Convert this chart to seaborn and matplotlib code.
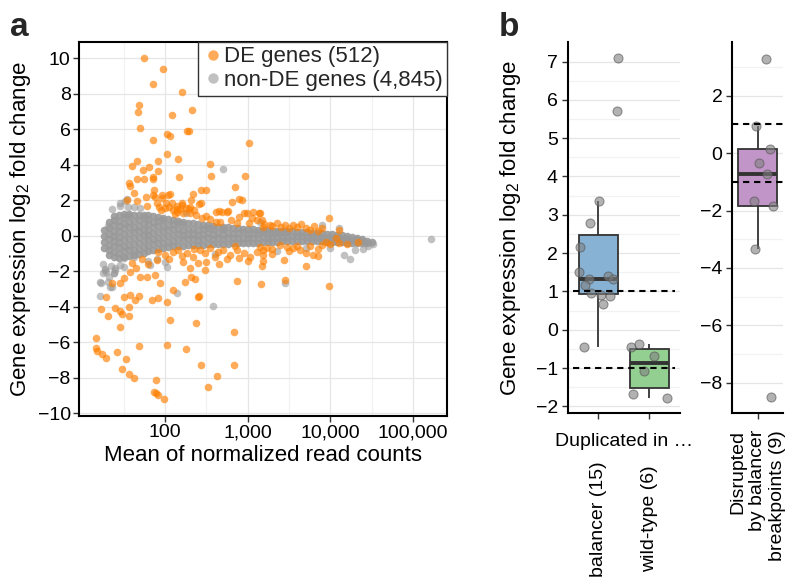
import numpy as np
import pandas as pd
import matplotlib
matplotlib.use("Agg")
import matplotlib.pyplot as plt
import matplotlib.transforms as mtransforms
from matplotlib.lines import Line2D
import seaborn as sns

# ---------------- data: panel a (log10 mean of normalized counts, log2 fold change) ----------------
de_label = "DE genes (512)"
nonde_label = "non-DE genes (4,845)"

# dense core of non-DE genes, one column of values per log10(mean)
cloud_log10_mean = [1.26, 1.32, 1.38, 1.44, 1.50, 1.56, 1.62, 1.68, 1.74, 1.80, 1.86, 1.92, 1.98,
                    2.04, 2.10, 2.16, 2.22, 2.28, 2.34, 2.40, 2.46, 2.52, 2.58, 2.64, 2.70, 2.76,
                    2.82, 2.88, 2.94, 3.00, 3.06, 3.12, 3.18, 3.24, 3.30, 3.36, 3.42, 3.48, 3.54,
                    3.60, 3.66, 3.72, 3.78, 3.84, 3.90, 3.96, 4.02, 4.08, 4.14, 4.20, 4.26, 4.32,
                    4.38, 4.44, 4.50]
cloud_lfc = [
    [-0.7, -0.35, 0.0, 0.35],
    [-1.1, -0.8, -0.5, -0.2, 0.1, 0.45, 0.8],
    [-1.2, -0.9, -0.6, -0.3, 0.0, 0.3, 0.6, 0.9, 1.1],
    [-1.25, -0.95, -0.65, -0.35, -0.05, 0.25, 0.55, 0.85, 1.2],
    [-1.2, -0.88, -0.55, -0.22, 0.1, 0.42, 0.75, 1.05, 1.25],
    [-1.15, -0.82, -0.5, -0.18, 0.15, 0.48, 0.8, 1.1, 1.25],
    [-1.1, -0.78, -0.45, -0.12, 0.2, 0.52, 0.85, 1.2],
    [-1.05, -0.72, -0.4, -0.08, 0.25, 0.58, 0.9, 1.2],
    [-0.95, -0.62, -0.3, 0.02, 0.35, 0.68, 1.0, 1.15],
    [-0.85, -0.55, -0.25, 0.05, 0.35, 0.65, 0.95, 1.15],
    [-0.8, -0.48, -0.16, 0.16, 0.48, 0.8, 1.1],
    [-0.75, -0.43, -0.11, 0.21, 0.53, 0.85, 1.05],
    [-0.7, -0.38, -0.06, 0.26, 0.58, 0.9, 1.0],
    [-0.65, -0.33, -0.01, 0.31, 0.63, 0.95],
    [-0.6, -0.28, 0.04, 0.36, 0.68, 0.9],
    [-0.55, -0.23, 0.09, 0.41, 0.7, 0.85],
    [-0.55, -0.25, 0.05, 0.35, 0.65, 0.8],
    [-0.5, -0.2, 0.1, 0.4, 0.75],
    [-0.5, -0.2, 0.1, 0.4, 0.7],
    [-0.5, -0.22, 0.06, 0.34, 0.65],
    [-0.5, -0.2, 0.1, 0.4, 0.6],
    [-0.45, -0.15, 0.15, 0.45, 0.6],
    [-0.45, -0.17, 0.11, 0.39, 0.55],
    [-0.45, -0.15, 0.15, 0.5],
    [-0.45, -0.17, 0.11, 0.39, 0.5],
    [-0.45, -0.15, 0.15, 0.48],
    [-0.42, -0.14, 0.14, 0.45],
    [-0.42, -0.12, 0.18, 0.42],
    [-0.4, -0.1, 0.2, 0.4],
    [-0.4, -0.13, 0.13, 0.4],
    [-0.4, -0.12, 0.15, 0.38],
    [-0.38, -0.1, 0.18, 0.35],
    [-0.36, -0.08, 0.2, 0.35],
    [-0.35, -0.1, 0.15, 0.32],
    [-0.35, -0.08, 0.18, 0.3],
    [-0.32, -0.05, 0.22, 0.3],
    [-0.3, -0.05, 0.2, 0.28],
    [-0.3, -0.05, 0.2, 0.26],
    [-0.28, -0.02, 0.25],
    [-0.28, -0.02, 0.24],
    [-0.28, -0.03, 0.22],
    [-0.28, -0.04, 0.2],
    [-0.3, -0.06, 0.18],
    [-0.3, -0.07, 0.16],
    [-0.3, -0.08, 0.14],
    [-0.32, -0.1, 0.12],
    [-0.34, -0.12, 0.1],
    [-0.35, -0.15, 0.06],
    [-0.36, -0.17, 0.02],
    [-0.38, -0.2, -0.02],
    [-0.4, -0.22, -0.08],
    [-0.42, -0.25, -0.14],
    [-0.42, -0.3, -0.2],
    [-0.4, -0.28],
    [-0.35],
]

# scattered non-DE genes outside the dense core
nonde_log10_mean = [1.21, 1.21, 1.33, 1.29, 1.31, 1.25, 1.28, 1.35, 1.40, 1.45, 1.50, 1.32, 1.38,
                    1.51, 1.45, 1.55, 1.62, 1.70, 1.36, 1.80, 1.90, 2.00, 2.14, 2.58, 2.70, 3.45,
                    5.22, 4.24, 4.16, 4.40, 4.45, 4.52, 4.30, 4.00, 3.70, 3.35, 2.60, 3.15, 2.25,
                    4.10, 3.90, 1.25, 1.23, 1.31, 1.36, 1.38, 1.27, 1.40, 1.50, 1.62, 1.82, 2.02,
                    1.46, 1.54]
nonde_lfc = [-3.37, -2.58, -2.86, -2.02, 0.57, -1.60, -1.85, -1.70, -1.90, -1.65, -1.75, -2.30, -2.10,
             1.94, 1.70, 1.65, 1.60, 1.55, 1.50, -1.40, -1.30, -1.50, -3.20, -3.93, 3.75, -2.66,
             -0.16, -1.29, -1.09, -0.75, -0.60, -0.48, -0.80, -0.70, -0.70, -0.85, -1.00, 0.80, 1.30,
             0.45, 0.60, -2.11, -2.64, -2.58, -2.87, -2.11, -1.93, -1.83, -1.27, -1.18, -1.64, -1.74,
             1.83, 2.06]

# differentially expressed genes
de_up = [(1.74, 10.0), (1.97, 9.38), (1.86, 8.55), (2.20, 8.08), (1.69, 7.37), (1.67, 6.96), (2.33, 7.07),
         (2.09, 6.82), (1.70, 6.07), (2.26, 5.90), (2.29, 5.90), (1.85, 5.38), (2.03, 5.72), (2.06, 5.61),
         (3.01, 5.25), (2.02, 4.63), (1.66, 4.21), (1.60, 3.93), (1.81, 3.89), (1.92, 4.21), (2.16, 4.31),
         (2.55, 4.03), (1.73, 3.71), (1.91, 3.65), (2.97, 3.35), (2.17, 3.31), (2.56, 3.37), (1.57, 2.99),
         (1.58, 2.80), (1.66, 3.18), (1.85, 3.29), (1.85, 3.18), (1.75, 3.18), (2.85, 2.77), (2.44, 2.60),
         (2.49, 2.60), (2.34, 2.34), (1.62, 2.43), (1.87, 2.56), (1.96, 2.32), (2.06, 2.38), (1.54, 2.02),
         (1.66, 1.96), (1.77, 2.17), (1.88, 2.21), (2.01, 1.87), (2.08, 1.83), (2.21, 1.87), (2.32, 2.00),
         (2.41, 1.79), (2.89, 2.07), (2.81, 1.90), (1.78, 1.68), (1.93, 1.64), (2.14, 1.49), (2.29, 1.49),
         (2.65, 1.38), (2.76, 1.40), (2.95, 1.31), (3.14, 1.31), (3.98, 1.00), (1.86, 2.30), (1.90, 1.83),
         (1.96, 2.11), (2.04, 2.30), (2.00, 1.55), (2.14, 1.36), (2.20, 1.74), (2.30, 1.64), (2.38, 1.17),
         (2.44, 1.83), (2.62, 1.36), (2.69, 1.36), (2.75, 1.36), (2.93, 2.02), (2.99, 1.27), (3.07, 1.36),
         (3.15, 1.27), (2.62, 0.79), (2.67, 0.79), (2.87, 0.70), (3.01, 0.70), (3.11, 0.89), (3.19, 0.51),
         (3.17, 0.89), (3.27, 0.61), (3.55, 0.61), (3.65, 0.66), (2.05, 1.60), (2.10, 1.45), (2.15, 1.70),
         (2.18, 1.50), (2.22, 1.30), (2.12, 1.25), (1.95, 1.45), (2.25, 1.55), (2.30, 1.30), (2.35, 1.45),
         (3.30, 0.55), (3.40, 0.50), (3.50, 0.45), (3.60, 0.50), (3.70, 0.42), (3.75, 0.35), (3.85, 0.30),
         (3.20, 0.65), (3.45, 0.60), (2.50, 1.10), (2.55, 0.95), (2.45, 1.00), (2.80, 0.90), (2.90, 1.05),
         (3.05, 1.00), (3.35, 0.75), (3.90, 0.45), (3.80, 0.55), (4.10, 0.35)]
de_down = [(3.98, -2.83), (3.45, -2.49), (3.16, -2.73), (2.87, -2.54), (3.71, -1.68), (3.44, -1.36),
           (3.85, -1.14), (3.17, -1.68), (3.18, -1.40), (2.48, -1.92), (2.41, -3.39), (2.10, -3.05),
           (1.94, -2.68), (1.88, -2.21), (1.78, -2.30), (1.70, -2.30), (1.58, -2.02), (1.50, -2.39),
           (1.46, -2.68), (1.36, -2.68), (2.24, -2.58), (2.32, -2.30), (2.36, -2.45), (1.29, -3.46),
           (1.50, -3.43), (1.58, -3.34), (1.64, -3.62), (1.69, -3.39), (1.84, -3.62), (1.92, -3.52),
           (2.02, -3.71), (2.40, -3.43), (1.22, -4.14), (1.31, -4.50), (1.40, -4.05), (1.46, -4.22),
           (1.48, -4.42), (1.56, -4.50), (1.56, -4.03), (1.45, -5.12), (2.06, -4.74), (2.38, -4.93),
           (2.83, -5.44), (1.17, -5.74), (1.16, -6.34), (1.18, -6.49), (1.24, -6.68), (1.29, -6.87),
           (1.42, -6.53), (1.53, -6.96), (1.68, -6.23), (2.03, -6.17), (2.25, -6.38), (1.48, -7.49),
           (1.57, -7.80), (1.63, -7.99), (2.44, -7.26), (2.83, -7.26), (2.63, -7.88), (2.52, -8.52),
           (1.89, -8.14), (1.87, -8.80), (1.89, -8.87), (1.92, -8.99), (1.99, -9.19),
           (2.10, -0.90), (2.16, -0.80), (2.26, -0.99), (2.34, -1.21), (2.42, -0.80), (2.48, -0.99),
           (2.54, -0.70), (2.64, -0.90), (2.70, -0.80), (2.79, -1.08), (2.87, -0.80), (2.95, -0.99),
           (3.03, -1.18), (3.11, -0.90), (3.19, -0.80), (2.22, -1.46), (2.50, -1.46), (2.30, -1.83),
           (1.90, -1.36), (1.72, -1.32), (1.92, -0.90), (2.00, -1.08), (3.15, -0.61), (3.23, -0.70),
           (3.39, -0.52), (3.47, -0.61), (3.55, -0.70), (3.63, -0.80), (3.71, -0.99), (3.79, -1.08),
           (3.85, -0.76), (3.95, -0.33), (4.07, -0.14), (4.34, -0.33), (3.19, -1.08), (3.30, -0.75),
           (3.50, -0.85), (3.60, -0.60), (3.75, -0.55), (3.90, -0.50), (4.00, -0.45), (4.10, -0.40),
           (4.20, -0.45), (2.60, -1.20), (2.75, -1.30), (2.90, -1.25), (3.00, -1.40), (2.20, -1.15),
           (2.05, -1.30), (1.80, -1.60), (1.65, -1.80), (1.60, -1.55), (2.40, -1.55), (2.65, -1.60),
           (2.35, -0.75), (2.85, -0.60), (3.30, -1.00)]

x_ticks = [100, 1000, 10000, 100000]
y_ticks_a = list(range(-10, 11, 2))

# ---------------- data: panel b ----------------
dup_groups = ["balancer (15)", "wild-type (6)"]
balancer_lfc = [7.09, 5.71, 3.35, 2.78, 2.17, 1.52, 1.32, 1.17, 1.40, 1.32, 0.95, 0.91, 0.87, 0.67, -0.44]
balancer_jitter = [0.38, 0.37, 0.01, -0.16, -0.36, -0.38, -0.18, -0.26, 0.18, 0.28, -0.15, 0.05, 0.23, 0.09, -0.28]
wildtype_lfc = [-0.44, -0.37, -0.68, -1.07, -1.68, -1.79]
wildtype_jitter = [-0.36, -0.20, 0.09, -0.10, -0.32, 0.35]
disrupted_group = "Disrupted\nby balancer\nbreakpoints (9)"
disrupted_lfc = [3.28, 0.94, 0.16, -0.36, -0.73, -1.68, -1.84, -3.35, -8.49]
disrupted_jitter = [0.16, -0.03, 0.25, 0.03, 0.18, -0.07, 0.31, -0.05, 0.27]
threshold = 1.0
box_colors = ["#87B2D4", "#94CF92", "#C195C8"]

# ---------------- style ----------------
sns.set_theme(style="white")
plt.rcParams["font.family"] = ["Liberation Sans", "DejaVu Sans"]
plt.rcParams["mathtext.fontset"] = "custom"
plt.rcParams["mathtext.rm"] = "Liberation Sans"
plt.rcParams["mathtext.default"] = "regular"

fig = plt.figure(figsize=(8, 5.88), dpi=100)
W, H = 800.0, 588.0


def box(l, t, r, b):
    return [l / W, 1 - b / H, (r - l) / W, (b - t) / H]


ylab = "Gene expression log$_2$ fold change"
grid_major = "#E6E6E6"
grid_minor = "#F2F2F2"

# ---------------- panel a ----------------
ax = fig.add_axes(box(79, 42, 447, 416))
cx = [10 ** m for m, ys in zip(cloud_log10_mean, cloud_lfc) for _ in ys]
cy = [v for ys in cloud_lfc for v in ys]
sns.scatterplot(x=cx, y=cy, color="#999999", alpha=0.9, s=30, linewidth=0, ax=ax, legend=False, zorder=3)
sns.scatterplot(x=[10 ** m for m in nonde_log10_mean], y=nonde_lfc, color="#999999", alpha=0.6,
                s=30, linewidth=0, ax=ax, legend=False, zorder=3)
de_all = de_up + de_down
sns.scatterplot(x=[10 ** p[0] for p in de_all], y=[p[1] for p in de_all], color="#FF7F00", alpha=0.65,
                s=30, linewidth=0, ax=ax, legend=False, zorder=4)
ax.set_xscale("log")
ax.set_xlim(9.11, 257700)
ax.set_ylim(-10.15, 10.92)
ax.set_xticks(x_ticks)
ax.set_xticklabels([f"{v:,}" for v in x_ticks])
ax.set_xticks([10 ** 1.5, 10 ** 2.5, 10 ** 3.5, 10 ** 4.5], minor=True)
ax.xaxis.set_minor_formatter(matplotlib.ticker.NullFormatter())
ax.set_yticks(y_ticks_a)
ax.set_yticklabels([f"{v}".replace("-", "\u2212") for v in y_ticks_a])
ax.grid(True, which="major", color=grid_major, lw=0.9, zorder=0)
ax.grid(True, which="minor", axis="x", color=grid_minor, lw=0.9, zorder=0)
ax.set_axisbelow(True)
for s in ax.spines.values():
    s.set_color("black")
    s.set_linewidth(1.5)
ax.tick_params(axis="both", which="major", direction="out", length=4, width=1.0, color="#333333",
               labelsize=14, pad=2, labelcolor="black", bottom=True, left=True)
ax.tick_params(axis="x", which="minor", length=0)
ax.set_xlabel("Mean of normalized read counts", fontsize=16, color="black")
ax.set_ylabel(ylab, fontsize=16, color="black")
ax.xaxis.set_label_coords(0.5, -0.078)
ax.yaxis.set_label_coords(-0.125, 0.5)
handles = [Line2D([], [], marker="o", ls="", color="#FF7F00", alpha=0.65, markersize=7.5, mec="none"),
           Line2D([], [], marker="o", ls="", color="#999999", alpha=0.6, markersize=7.5, mec="none")]
leg = ax.legend(handles, [de_label, nonde_label], loc="upper right", bbox_to_anchor=(1, 1),
                borderaxespad=0, fontsize=16, handletextpad=0.05, handlelength=0.9, labelspacing=0.12,
                borderpad=0.2, fancybox=False, framealpha=1, edgecolor="#333333")
leg.get_frame().set_linewidth(1.0)
leg.set_zorder(10)

# ---------------- panel b (duplicated) ----------------
ax1 = fig.add_axes(box(567.7, 42, 680, 413.3))
df1 = pd.DataFrame({
    "group": [dup_groups[0]] * len(balancer_lfc) + [dup_groups[1]] * len(wildtype_lfc),
    "lfc": balancer_lfc + wildtype_lfc,
})
box_kw = dict(showfliers=False, showcaps=False, width=0.76, linecolor="#333333", linewidth=1.3,
              saturation=1, medianprops={"linewidth": 2.8, "color": "#333333"}, legend=False)
sns.boxplot(data=df1, x="group", y="lfc", hue="group", order=dup_groups, hue_order=dup_groups,
            palette=box_colors[:2], ax=ax1, **box_kw)
px1 = [0 + j for j in balancer_jitter] + [1 + j for j in wildtype_jitter]
sns.scatterplot(x=px1, y=balancer_lfc + wildtype_lfc, color="#808080", alpha=0.6, s=42,
                edgecolor="#555555", linewidth=0.8, ax=ax1, legend=False, zorder=5)
ax1.hlines([threshold, -threshold], -0.5, len(dup_groups) - 0.5, colors="black", lw=1.5,
           linestyles=(0, (3, 2.3)), zorder=6)
ax1.set_xlim(-0.6, 1.6)
ax1.set_ylim(-2.18, 7.51)
ax1.set_yticks(range(-2, 8))
ax1.set_yticklabels([f"{v}".replace("-", "\u2212") for v in range(-2, 8)])
ax1.set_yticks(np.arange(-1.5, 7.5, 1.0), minor=True)

# ---------------- panel b (disrupted) ----------------
ax2 = fig.add_axes(box(732.3, 42, 783, 413.3))
df2 = pd.DataFrame({"group": [disrupted_group] * len(disrupted_lfc), "lfc": disrupted_lfc})
sns.boxplot(data=df2, x="group", y="lfc", hue="group", palette=box_colors[2:], ax=ax2, **box_kw)
sns.scatterplot(x=disrupted_jitter, y=disrupted_lfc, color="#808080", alpha=0.6, s=42,
                edgecolor="#555555", linewidth=0.8, ax=ax2, legend=False, zorder=5)
ax2.hlines([threshold, -threshold], -0.5, 0.5, colors="black", lw=1.5,
           linestyles=(0, (3, 2.3)), zorder=6)
ax2.set_xlim(-0.5, 0.5)
ax2.set_ylim(-9.06, 3.87)
ax2.set_yticks(range(-8, 3, 2))
ax2.set_yticklabels([f"{v}".replace("-", "\u2212") for v in range(-8, 3, 2)])
ax2.set_yticks(range(-9, 4, 2), minor=True)

for a in (ax1, ax2):
    for side in ("top", "right"):
        a.spines[side].set_visible(False)
    for side in ("left", "bottom"):
        a.spines[side].set_color("black")
        a.spines[side].set_linewidth(1.5)
    a.grid(True, which="major", axis="y", color=grid_major, lw=0.9, zorder=0)
    a.grid(True, which="minor", axis="y", color=grid_minor, lw=0.9, zorder=0)
    a.set_axisbelow(True)
    a.tick_params(axis="both", which="major", direction="out", length=4, width=1.0, color="#333333",
                  labelsize=14, pad=3, labelcolor="black", bottom=True, left=True)
    a.tick_params(axis="y", which="minor", length=0)
    a.set_xticklabels([])
    a.set_xlabel("")
    a.set_ylabel("")

ax1.set_ylabel(ylab, fontsize=16, color="black")
ax1.yaxis.set_label_coords(-0.40, 0.5)

# category labels of panel b
tr1 = mtransforms.blended_transform_factory(ax1.transData, ax1.transAxes)
for i, g in enumerate(dup_groups):
    ax1.text(i, -(519 - 413.3) / (413.3 - 42), g, transform=tr1, rotation=90, ha="center",
             va="center", fontsize=14, color="black")
ax1.text(0.5, -(441 - 413.3) / (413.3 - 42), "Duplicated in \u2026", transform=tr1, ha="center",
         va="center", fontsize=14, color="black")
tr2 = mtransforms.blended_transform_factory(ax2.transData, ax2.transAxes)
ax2.text(0, -(430 - 413.3) / (413.3 - 42), disrupted_group, transform=tr2, rotation=90,
         ha="center", va="top", ma="right", fontsize=14, color="black", linespacing=1.2)

# panel letters
fig.text(10 / W, 1 - 36.5 / H, "a", fontsize=24, fontweight="bold", ha="left", va="baseline")
fig.text(499 / W, 1 - 36.5 / H, "b", fontsize=24, fontweight="bold", ha="left", va="baseline")

fig.savefig("out.png", dpi=100)
